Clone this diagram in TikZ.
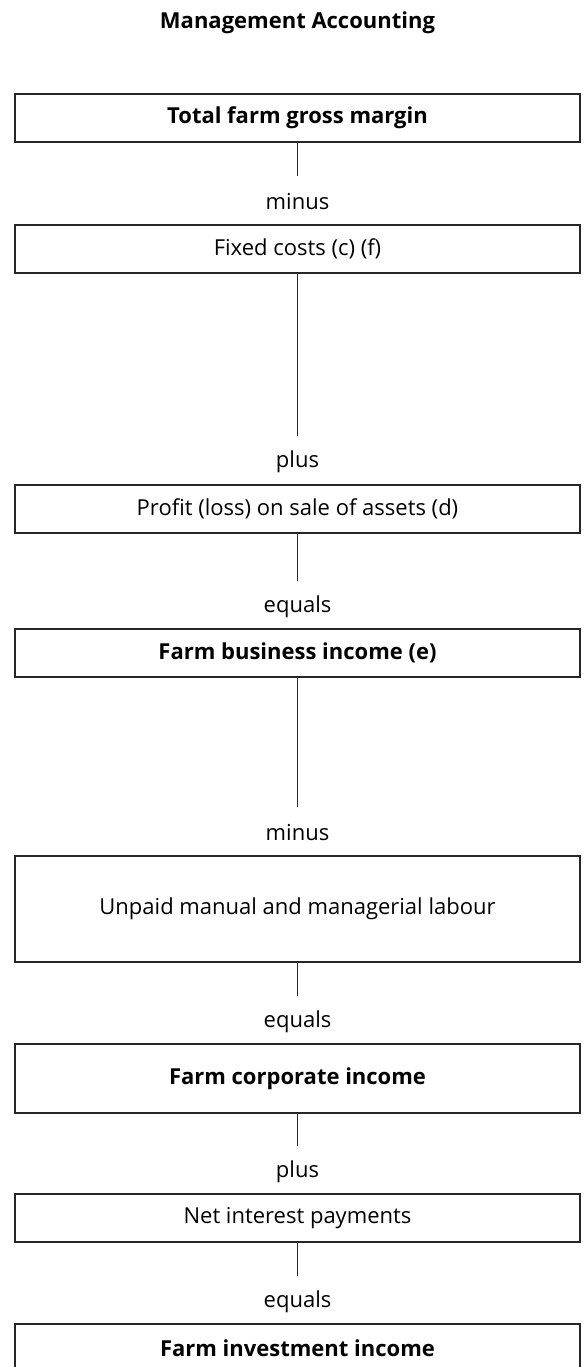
\documentclass[tikz,border=0pt]{standalone}
\usepackage{fontspec}
\setmainfont{Open Sans}
\usetikzlibrary{positioning}

\tikzset{
  fase/.style={draw=black!85, line width=1.2pt, minimum width=565pt, minimum height=48pt, inner sep=0pt, font=\fontsize{22}{26}\selectfont},
  risultato/.style={fase, font=\fontsize{22}{26}\selectfont\bfseries},
  operatore/.style={inner sep=0pt, font=\fontsize{22}{26}\selectfont},
  legame/.style={draw=black!85, line width=1pt},
}

\begin{document}
\begin{tikzpicture}[x=1pt, y=-1pt]
				\useasboundingbox (0,0) rectangle (585,1367);
				
				% Titolo in alto
				\node[font=\fontsize{22}{26}\selectfont\bfseries] (titolo) at (297.5, 23) {Management Accounting};
				
				% Blocchi del conto, dall'alto verso il basso
				\node[risultato] (margine) at (297.5, 118) {Total farm gross margin};
				\node[fase] (fissi) at (297.5, 249) {Fixed costs (c) (f)};
				\node[fase] (vendita) at (297.5, 509) {Profit (loss) on sale of assets (d)};
				\node[risultato] (impresa) at (297.5, 653) {Farm business income (e)};
				\node[fase, minimum height=106pt] (lavoro) at (297.5, 909) {Unpaid manual and managerial labour};
				\node[risultato, minimum height=69pt] (societa) at (297.5, 1078.5) {Farm corporate income};
				\node[fase] (interessi) at (297.5, 1218) {Net interest payments};
				\node[risultato] (investimento) at (297.5, 1348) {Farm investment income};
				
				% Operatori tra i blocchi
				\node[operatore] (meno1) at (297.5, 202) {minus};
				\node[operatore] (piu1) at (297.5, 462) {plus};
				\node[operatore] (uguale1) at (297.5, 607) {equals};
				\node[operatore] (meno2) at (297.5, 833) {minus};
				\node[operatore] (uguale2) at (297.5, 1022) {equals};
				\node[operatore] (piu2) at (297.5, 1172) {plus};
				\node[operatore] (uguale3) at (297.5, 1302) {equals};
				
				% Estremi liberi dei tratti verticali
				\coordinate (t1) at (297.5, 176);
				\coordinate (t2) at (297.5, 436);
				\coordinate (t3) at (297.5, 581);
				\coordinate (t4) at (297.5, 807);
				\coordinate (t5) at (297.5, 996);
				\coordinate (t6) at (297.5, 1146);
				\coordinate (t7) at (297.5, 1276);
				
				\draw[legame] (margine.south) -- (t1);
				\draw[legame] (fissi.south) -- (t2);
				\draw[legame] (vendita.south) -- (t3);
				\draw[legame] (impresa.south) -- (t4);
				\draw[legame] (lavoro.south) -- (t5);
				\draw[legame] (societa.south) -- (t6);
				\draw[legame] (interessi.south) -- (t7);
			\end{tikzpicture}
\end{document}
